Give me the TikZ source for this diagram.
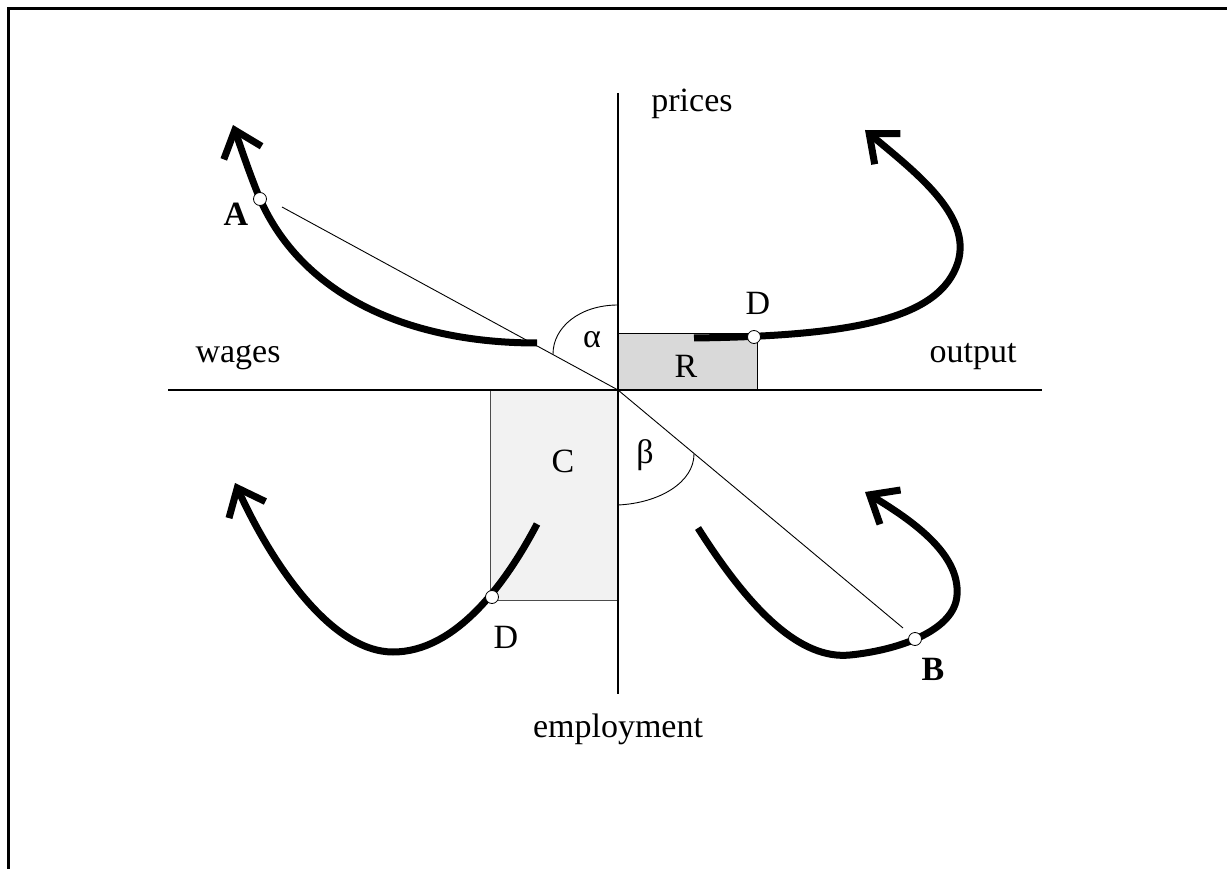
\documentclass[tikz,border=0pt]{standalone}
\usepackage{fontspec}
\setmainfont{Liberation Serif}
\usetikzlibrary{arrows.meta}
\begin{document}
\begin{tikzpicture}[x=1pt,y=-1pt,
  lbl/.style={anchor=base,inner sep=0pt,font=\fontsize{34}{40}\selectfont},
  blbl/.style={anchor=base,inner sep=0pt,font=\fontsize{34}{40}\selectfont\bfseries},
  bigcurve/.style={line width=7pt},
  arrowcurve/.style={line width=7pt,-{Straight Barb[length=24pt,width=40pt]}},
  dot/.style={circle,draw,fill=white,inner sep=0pt,minimum size=13pt,line width=0.8pt},
  fine/.style={line width=0.9pt},
  axisline/.style={line width=1.3pt},
]
\useasboundingbox (0,0) rectangle (1227,869);
% frame
\draw[line width=3pt] (8,869) -- (8,9) -- (1227,9);
% boxes
\node[draw,fine,fill=black!15,anchor=south west,minimum width=138.7pt,minimum height=56pt,inner sep=0pt] (Rbox) at (618,390) {};
\node[draw=black!70,fine,fill=black!5,anchor=north east,minimum width=127.3pt,minimum height=210pt,inner sep=0pt] (Cbox) at (618,390) {};
% axes
\coordinate (O) at (618,390);
\coordinate (xl) at (168,390);
\coordinate (xr) at (1042,390);
\coordinate (yt) at (618,93);
\coordinate (yb) at (618,694);
\draw[axisline] (xl) -- (xr);
\draw[axisline] (yt) -- (yb);
% diagonal lines
\coordinate (Aend) at (282,207);
\coordinate (Bend) at (903,628);
\draw[fine] (O) -- (Aend);
\draw[fine] (O) -- (Bend);
% angle arcs
\coordinate (a1) at (618,305);
\coordinate (a2) at (553,354);
\draw[fine] (a1) .. controls (580,305) and (553,327) .. (a2);
\coordinate (b1) at (618,505);
\coordinate (b2) at (694,454);
\draw[fine] (b1) .. controls (660,503) and (694,482) .. (b2);
% thick curves
\coordinate (c1s) at (537,343);
\coordinate (c1e) at (233,125);
\draw[arrowcurve] (c1s) .. controls (400,343) and (300,290) .. (260,199) .. controls (250,175) and (241,148) .. (c1e);
\coordinate (c2s) at (694,338);
\coordinate (c2e) at (865,130);
\draw[arrowcurve] (c2s) .. controls (850,336) and (940,320) .. (958,262) .. controls (972,215) and (915,172) .. (c2e);
\coordinate (c3s) at (537,524);
\coordinate (c3e) at (235,483);
\draw[arrowcurve] (c3s) .. controls (505,585) and (455,652) .. (393,652) .. controls (330,652) and (270,560) .. (c3e);
\coordinate (c4s) at (698,528);
\coordinate (c4e) at (865,492);
\draw[arrowcurve] (c4s) .. controls (750,610) and (800,660) .. (850,655) .. controls (900,650) and (955,630) .. (957,595) .. controls (960,555) and (915,522) .. (c4e);
% points
\node[dot] (A) at (260,199) {};
\node[dot] (Dtop) at (754,337) {};
\node[dot] (Dbot) at (492,597) {};
\node[dot] (B) at (915,639) {};
% labels
\node[lbl] (prices) at (692,112) {prices};
\node[lbl] (wages) at (238,362) {wages};
\node[lbl] (output) at (973,362) {output};
\node[lbl] (employment) at (618,737) {employment};
\node[lbl] (alpha) at (592,348) {α};
\node[lbl] (beta) at (645,463) {β};
\node[lbl] (Rl) at (686,377) {R};
\node[lbl] (Cl) at (563,472) {C};
\node[lbl] (Dtl) at (758,315) {D};
\node[lbl] (Dbl) at (506,648) {D};
\node[blbl] (Al) at (236,226) {A};
\node[blbl] (Bl) at (933,680) {B};
\end{tikzpicture}
\end{document}
